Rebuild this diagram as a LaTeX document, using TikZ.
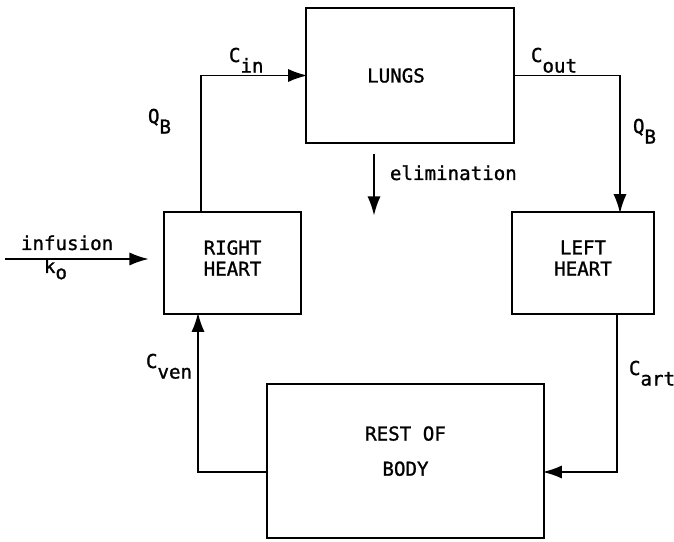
\documentclass[tikz,border=0pt]{standalone}
\usepackage{fontspec}
\newfontfamily\plotfont[FakeBold=1.2]{DejaVu Sans Mono}
\usetikzlibrary{arrows.meta,positioning}
\newcommand{\lowsub}[1]{\raisebox{-6pt}{#1}}

\begin{document}
\begin{tikzpicture}[line width=1.1pt,
  font=\plotfont\fontsize{10.9}{12}\selectfont,
  organ/.style={draw, line width=1.4pt, align=center, inner sep=0pt},
  flow/.style={-{Latex[length=11pt,width=7.5pt]}, shorten >=-1.5pt},
  lbl/.style={anchor=base west, inner sep=0pt}]
  \useasboundingbox (0,0) rectangle (13.48,10.82);
  % compartments
  \node[organ, minimum width=4.16cm, minimum height=2.70cm] (lungs) at (8.20,9.31) {LUNGS\hspace*{0.56cm}};
  \node[organ, minimum width=2.74cm, minimum height=2.04cm, text depth=0.2cm] (rheart) at (4.65,5.56) {RIGHT\\HEART};
  \node[organ, minimum width=2.84cm, minimum height=2.04cm, text depth=0.2cm] (lheart) at (11.66,5.56) {LEFT\\HEART};
  \node[organ, minimum width=5.54cm, minimum height=3.08cm, text depth=0.4cm] (body) at (8.11,1.60) {REST OF\\[8pt]BODY};
  % blood flow round the loop
  \draw[flow] ([xshift=-0.63cm]rheart.north) |- (lungs.west);
  \draw[flow] (lungs.east) -| ([xshift=0.74cm]lheart.north);
  \draw[flow] ([xshift=0.68cm]lheart.south) |- ([yshift=-0.22cm]body.east);
  \draw[flow] ([yshift=-0.22cm]body.west) -| ([xshift=-0.69cm]rheart.south);
  % infusion in, elimination out
  \coordinate (infstart) at (0.10,5.64);
  \draw[flow, shorten >=0.28cm] (infstart) -- (infstart -| rheart.west);
  \coordinate (elimtop) at (7.48,7.74);
  \coordinate (elimbot) at (7.48,6.56);
  \draw[flow] (elimtop) -- (elimbot);
  % labels
  \node[lbl] (cin) at (4.56,9.58) {C\lowsub{in}};
  \node[lbl] (cout) at (10.60,9.58) {C\lowsub{out}};
  \node[lbl] (qbl) at (2.94,8.36) {Q\lowsub{B}};
  \node[lbl] (qbr) at (12.64,8.16) {Q\lowsub{B}};
  \node[lbl] (cart) at (12.56,3.32) {C\lowsub{art}};
  \node[lbl] (cven) at (2.90,3.46) {C\lowsub{ven}};
  \node[lbl] (inf) at (0.40,5.82) {infusion};
  \node[lbl] (k0) at (0.86,5.36) {k\raisebox{-3.5pt}{o}};
  \node[lbl] (elim) at (7.78,7.22) {elimination};
\end{tikzpicture}
\end{document}
